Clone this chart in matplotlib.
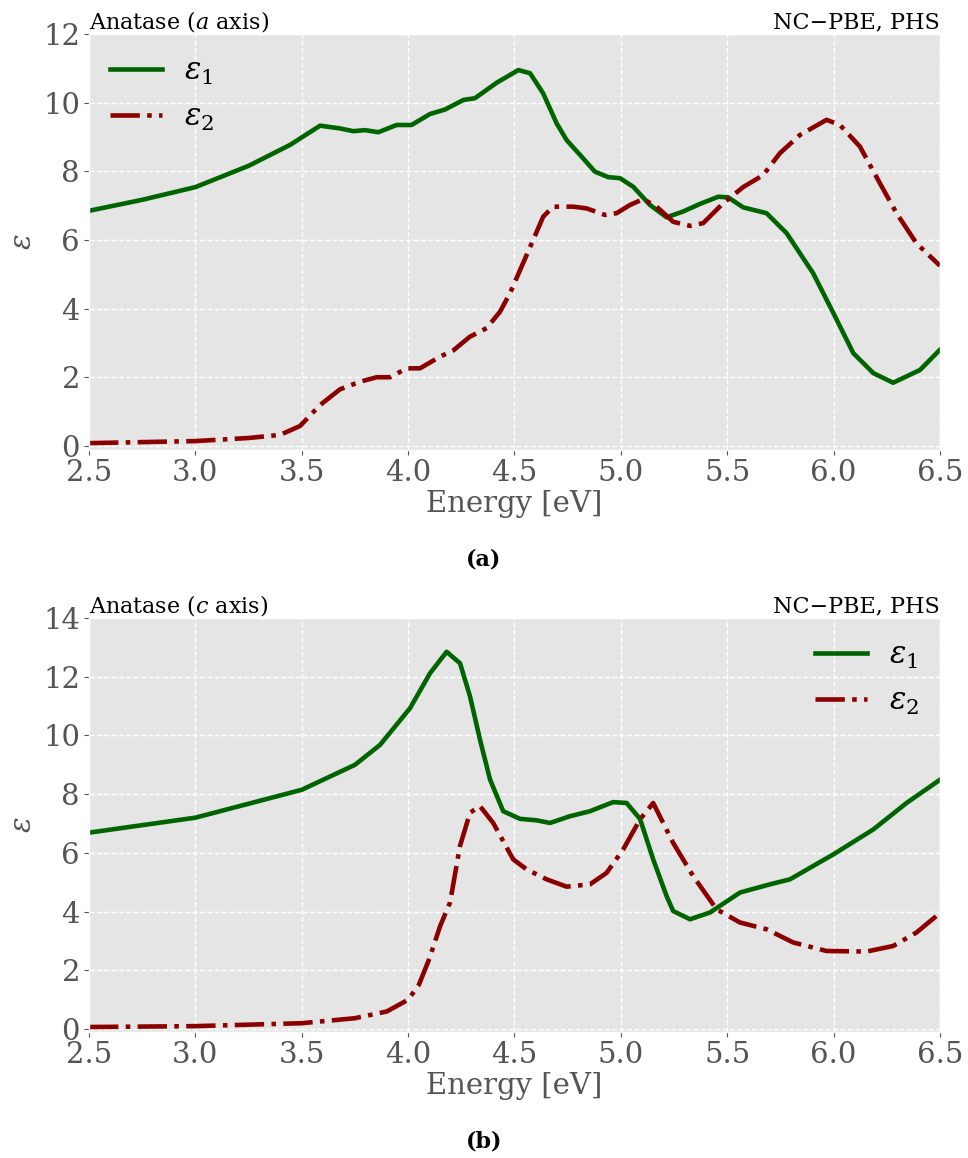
import matplotlib

matplotlib.use("Agg")
import matplotlib.pyplot as plt

# Anatase a axis: real part of the dielectric function
energy_a = [2.5, 2.75, 3.0, 3.25, 3.445, 3.586, 3.68, 3.742, 3.797, 3.86, 3.946,
            4.016, 4.103, 4.173, 4.26, 4.314, 4.416, 4.518, 4.573, 4.635, 4.698,
            4.745, 4.808, 4.878, 4.941, 4.996, 5.058, 5.137, 5.215, 5.293, 5.372,
            5.458, 5.505, 5.575, 5.685, 5.779, 5.904, 5.999, 6.093, 6.187, 6.28,
            6.406, 6.5]
eps1_a = [6.85, 7.17, 7.54, 8.16, 8.77, 9.33, 9.25, 9.17, 9.2, 9.14, 9.35,
          9.35, 9.67, 9.8, 10.08, 10.13, 10.58, 10.95, 10.86, 10.27, 9.4,
          8.91, 8.48, 7.99, 7.83, 7.8, 7.55, 7.02, 6.66, 6.83, 7.05,
          7.26, 7.24, 6.95, 6.78, 6.2, 5.03, 3.87, 2.7, 2.12, 1.84,
          2.21, 2.8]

# Anatase a axis: imaginary part
energy_a2 = [2.5, 3.0, 3.25, 3.398, 3.492, 3.586, 3.68, 3.774, 3.852, 3.915, 3.993,
             4.056, 4.15, 4.212, 4.29, 4.369, 4.432, 4.479, 4.557, 4.635, 4.682,
             4.776, 4.839, 4.925, 4.98, 5.043, 5.105, 5.168, 5.246, 5.325, 5.387,
             5.481, 5.575, 5.669, 5.748, 5.842, 5.967, 6.03, 6.124, 6.218, 6.296,
             6.39, 6.5]
eps2_a = [0.08, 0.14, 0.23, 0.32, 0.58, 1.19, 1.65, 1.87, 2.0, 2.0, 2.26,
          2.26, 2.6, 2.78, 3.18, 3.43, 3.91, 4.45, 5.56, 6.68, 6.97,
          6.97, 6.92, 6.73, 6.78, 7.02, 7.19, 6.97, 6.53, 6.41, 6.49,
          7.07, 7.54, 7.89, 8.53, 9.06, 9.5, 9.35, 8.72, 7.65, 6.78,
          5.9, 5.25]

# Anatase c axis: real part
energy_c = [2.5, 3.0, 3.5, 3.75, 3.868, 4.009, 4.103, 4.181, 4.244, 4.291, 4.338,
            4.385, 4.447, 4.526, 4.604, 4.667, 4.761, 4.855, 4.964, 5.027, 5.09,
            5.152, 5.215, 5.246, 5.325, 5.419, 5.56, 5.701, 5.795, 5.999, 6.187,
            6.343, 6.5]
eps1_c = [6.69, 7.2, 8.15, 9.0, 9.68, 10.93, 12.12, 12.85, 12.46, 11.33, 9.85,
          8.5, 7.42, 7.16, 7.11, 7.02, 7.25, 7.42, 7.73, 7.7, 7.16,
          5.78, 4.53, 4.02, 3.74, 3.97, 4.65, 4.93, 5.1, 5.95, 6.8,
          7.7, 8.49]

# Anatase c axis: imaginary part
energy_c2 = [2.5, 3.0, 3.5, 3.75, 3.9, 4.0, 4.05, 4.1, 4.15, 4.197, 4.244, 4.291,
             4.338, 4.4, 4.494, 4.557, 4.651, 4.745, 4.855, 4.933, 5.011, 5.09,
             5.152, 5.246, 5.34, 5.45, 5.56, 5.685, 5.81, 5.967, 6.155, 6.28,
             6.39, 6.5]
eps2_c = [0.07, 0.1, 0.2, 0.37, 0.6, 1.0, 1.5, 2.4, 3.5, 4.31, 6.24, 7.37,
          7.59, 7.02, 5.78, 5.44, 5.1, 4.85, 4.93, 5.32, 6.12, 7.14,
          7.7, 6.34, 5.21, 4.08, 3.63, 3.4, 2.95, 2.66, 2.64, 2.83,
          3.29, 3.95]

x_ticks = [2.5, 3.0, 3.5, 4.0, 4.5, 5.0, 5.5, 6.0, 6.5]

plt.style.use("ggplot")
plt.rcParams["mathtext.fontset"] = "dejavuserif"
plt.rcParams["font.family"] = "DejaVu Serif"

fig = plt.figure(figsize=(9.68, 11.58), dpi=100)
ax_a = fig.add_axes([0.092, 0.6114, 0.879, 0.3592])
ax_b = fig.add_axes([0.092, 0.1088, 0.879, 0.3575])

panels = [
    (ax_a, energy_a, eps1_a, energy_a2, eps2_a, (-0.12, 12), range(0, 13, 2),
     "Anatase ($a$ axis)", "upper left", "(a)", 0.512),
    (ax_b, energy_c, eps1_c, energy_c2, eps2_c, (-0.1, 14), range(0, 15, 2),
     "Anatase ($c$ axis)", "upper right", "(b)", 0.009),
]

for ax, e1, y1, e2, y2, ylim, yticks, title, loc, tag, tag_y in panels:
    ax.plot(e1, y1, color="#006400", lw=3.3, label=r"$\varepsilon_1$")
    ax.plot(e2, y2, color="#8b0000", lw=3.3, ls="-.", label=r"$\varepsilon_2$")
    ax.set_xlim(2.5, 6.5)
    ax.set_ylim(*ylim)
    ax.set_xticks(x_ticks)
    ax.set_yticks(list(yticks))
    ax.tick_params(labelsize=21, colors="#555555", pad=3)
    ax.grid(True, color="white", ls="--", lw=1)
    ax.set_xlabel("Energy [eV]", fontsize=21, color="#555555", labelpad=2)
    ax.set_ylabel(r"$\varepsilon$", fontsize=21, color="#555555", labelpad=4)
    ax.set_title(title, loc="left", fontsize=16, pad=3)
    ax.set_title("NC\u2212PBE, PHS", loc="right", fontsize=16, pad=3)
    ax.legend(loc=loc, fontsize=22, frameon=False, handlelength=1.7,
              handletextpad=0.7, borderaxespad=0.3, labelspacing=0.5)
    fig.text(0.5, tag_y, tag, ha="center", fontsize=16, fontweight="bold")

fig.savefig("out.png", dpi=100)
